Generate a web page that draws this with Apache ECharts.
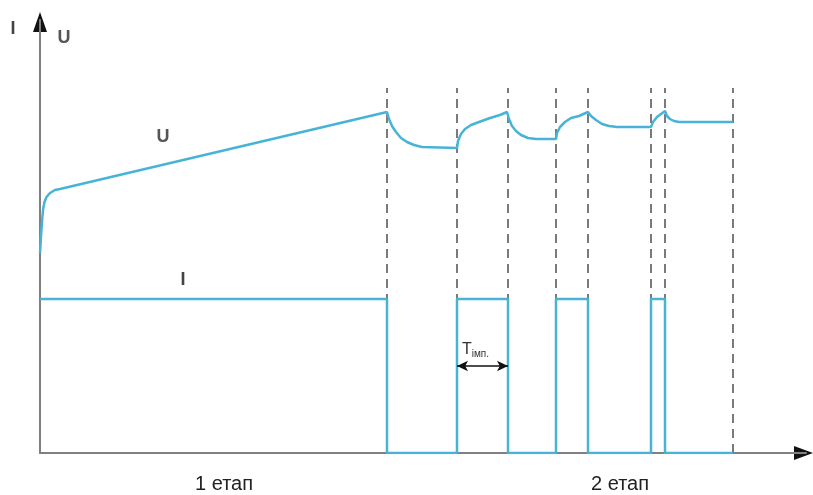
<!DOCTYPE html>
<html>
<head>
<meta charset="utf-8">
<script src="https://cdn.jsdelivr.net/npm/echarts@6/dist/echarts.min.js"></script>
<style>
  html, body { margin: 0; padding: 0; background: #fff; }
  #main { width: 813px; height: 495px; }
</style>
</head>
<body>
<div id="main"></div>
<script>
// U curve (time, value)
var uTime  = [0, 0.05, 0.1, 0.2, 0.3, 0.45, 0.65, 1.0, 1.5, 2.0, 34.7,
              34.9, 35.2, 35.6, 36.1, 36.7, 37.4, 38.2, 41.7,
              41.8, 42.1, 42.5, 43.1, 43.9, 45.0, 46.0, 46.7,
              46.9, 47.2, 47.6, 48.1, 48.8, 49.6, 51.6,
              51.7, 52.0, 52.5, 53.1, 53.9, 54.8,
              55.1, 55.6, 56.2, 56.9, 57.7, 61.1,
              61.3, 61.7, 62.1, 62.5,
              62.7, 63.0, 63.4, 63.9, 69.3];
var uValue = [20.0, 20.8, 21.7, 23.1, 24.3, 25.1, 25.6, 26.0, 26.3, 26.4, 34.1,
              33.4, 32.7, 32.1, 31.5, 31.1, 30.8, 30.6, 30.5,
              31.2, 31.9, 32.4, 32.8, 33.1, 33.5, 33.8, 34.1,
              33.4, 32.7, 32.2, 31.8, 31.5, 31.4, 31.4,
              32.0, 32.6, 33.1, 33.5, 33.7, 34.1,
              33.7, 33.3, 32.9, 32.7, 32.6, 32.6,
              33.1, 33.6, 33.9, 34.2,
              33.7, 33.4, 33.2, 33.1, 33.1];

// I current pulses: switch times and level in each interval
var iSwitch = [0, 34.7, 41.7, 46.8, 51.6, 54.8, 61.1, 62.5, 69.3];
var iLevel  = [15.4, 0, 15.4, 0, 15.4, 0, 15.4, 0];

// dashed vertical markers
var dashTimes = [34.7, 41.7, 46.8, 51.6, 54.8, 61.1, 62.5, 69.3];
var dashTop = 36.5;

// T імп. arrow span
var tPulse = [41.7, 46.8];
var tArrowY = 8.7;

var iData = [];
for (var k = 0; k < iLevel.length; k++) {
  iData.push([iSwitch[k], iLevel[k]]);
  iData.push([iSwitch[k + 1], iLevel[k]]);
}
var uData = uTime.map(function (t, k) { return [t, uValue[k]]; });

var blue = '#46b3d7';
var font = '"Liberation Sans", Arial, sans-serif';

var chart = echarts.init(document.getElementById('main'));
chart.setOption({
  animation: false,
  grid: { left: 40, top: 20, right: 7, bottom: 42 },
  xAxis: {
    type: 'value', min: 0, max: 76.6,
    axisLine: { show: true, onZero: false, lineStyle: { color: '#808080', width: 2 } },
    axisTick: { show: false }, axisLabel: { show: false }, splitLine: { show: false }
  },
  yAxis: {
    type: 'value', min: 0, max: 43.3,
    axisLine: { show: true, onZero: false, lineStyle: { color: '#808080', width: 2 } },
    axisTick: { show: false }, axisLabel: { show: false }, splitLine: { show: false }
  },
  series: [
    {
      type: 'line', data: [], silent: true, z: 1,
      markLine: {
        silent: true, symbol: 'none', label: { show: false }, z: 1,
        lineStyle: { color: '#7a7a7a', width: 2, type: [9, 6] },
        data: dashTimes.map(function (t) { return [{ coord: [t, 0] }, { coord: [t, dashTop] }]; })
      }
    },
    {
      name: 'I', type: 'line', data: iData, showSymbol: false, z: 3,
      lineStyle: { color: blue, width: 2.5 },
      markLine: {
        silent: true, symbol: ['arrow', 'arrow'], symbolSize: [8, 11], label: { show: false },
        lineStyle: { color: '#111', width: 1.5, type: 'solid' },
        data: [[{ coord: [tPulse[0], tArrowY] }, { coord: [tPulse[1], tArrowY] }]]
      }
    },
    {
      name: 'U', type: 'line', data: uData, showSymbol: false, z: 3,
      lineStyle: { color: blue, width: 2.5 }
    }
  ],
  graphic: [
    { type: 'polygon', shape: { points: [[40, 12], [33, 32], [47, 32]] }, style: { fill: '#111' } },
    { type: 'polygon', shape: { points: [[813, 453], [794, 446], [794, 460]] }, style: { fill: '#111' } },
    { type: 'text', x: 13, y: 29, style: { text: 'I', font: 'bold 18px ' + font, fill: '#444', align: 'center', verticalAlign: 'middle' } },
    { type: 'text', x: 64, y: 38, style: { text: 'U', font: 'bold 18px ' + font, fill: '#555', align: 'center', verticalAlign: 'middle' } },
    { type: 'text', x: 163, y: 137, style: { text: 'U', font: 'bold 18px ' + font, fill: '#555', align: 'center', verticalAlign: 'middle' } },
    { type: 'text', x: 183, y: 280, style: { text: 'I', font: 'bold 18px ' + font, fill: '#444', align: 'center', verticalAlign: 'middle' } },
    { type: 'text', x: 224, y: 484, style: { text: '1 етап', font: '20px ' + font, fill: '#222', align: 'center', verticalAlign: 'middle' } },
    { type: 'text', x: 620, y: 484, style: { text: '2 етап', font: '20px ' + font, fill: '#222', align: 'center', verticalAlign: 'middle' } },
    {
      type: 'text', x: 462, y: 350,
      style: {
        text: '{t|T}{s|імп.}', align: 'left', verticalAlign: 'middle',
        rich: {
          t: { font: '16px ' + font, fill: '#333' },
          s: { font: '10px ' + font, fill: '#333', padding: [8, 0, 0, 0] }
        }
      }
    }
  ]
});
</script>
</body>
</html>
